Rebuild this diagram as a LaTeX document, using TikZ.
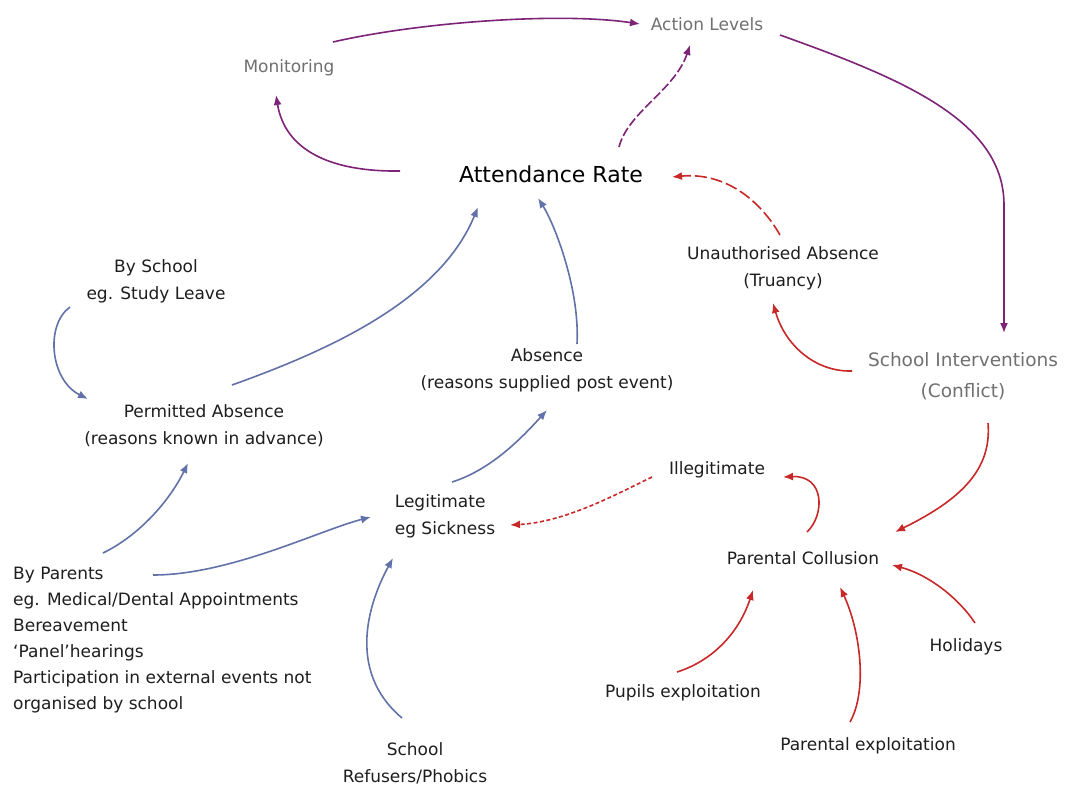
\documentclass[tikz,border=0pt]{standalone}
\usepackage{fontspec}
\setmainfont{DejaVu Sans}
\usetikzlibrary{arrows.meta,calc}
\definecolor{pur}{RGB}{125,35,120}
\definecolor{blu}{RGB}{98,114,168}
\definecolor{rd}{RGB}{200,40,40}
\definecolor{txt}{RGB}{30,30,30}
\definecolor{gtxt}{RGB}{112,112,112}
\begin{document}
\begin{tikzpicture}[x=1pt,y=-1pt,
  lbl/.style={font=\fontsize{17}{27}\selectfont, text=txt, align=center, inner sep=2pt},
  glbl/.style={lbl, text=gtxt},
  con/.style={line width=1.6pt, -{Latex[length=10pt,width=8pt]}},
  pcon/.style={con, color=pur},
  bcon/.style={con, color=blu},
  rcon/.style={con, color=rd}]
\fill[white] (0,0) rectangle (1071,785);
\useasboundingbox (0,0) rectangle (1071,785);

% nodes
\node[glbl] (al) at (707,24) {Action Levels};
\node[glbl] (mon) at (289,68) {Monitoring};
\node[lbl, font=\fontsize{22}{27}\selectfont, text=black] (att) at (551,174) {Attendance Rate};
\node[lbl] (bys) at (156,281) {By School\\eg. Study Leave};
\node[lbl] (perm) at (204,426) {Permitted Absence\\(reasons known in advance)};
\node[lbl] (abs) at (547,370) {Absence\\(reasons supplied post event)};
\node[lbl] (un) at (783,268) {Unauthorised Absence\\(Truancy)};
\node[glbl, font=\fontsize{18.5}{31}\selectfont] (si) at (963,376) {School Interventions\\(Conflict)};
\node[lbl] (illeg) at (717,470) {Illegitimate};
\node[lbl, align=left] (leg) at (445,516) {Legitimate\\eg Sickness};
\node[lbl] (pc) at (803,558) {Parental Collusion};
\node[lbl] (hol) at (966,647) {Holidays};
\node[lbl] (pup) at (683,693) {Pupils exploitation};
\node[lbl] (pex) at (868,746) {Parental exploitation};
\node[lbl, align=left, anchor=west, font=\fontsize{17}{26}\selectfont] (byp) at (11,640)
  {By Parents\\eg. Medical/Dental Appointments\\Bereavement\\‘Panel’hearings\\Participation in external events not\\organised by school};
\node[lbl] (ref) at (415,763) {School\\Refusers/Phobics};

% purple connectors
\draw[pcon] ($(mon)+(44,-26)$) .. controls (420,22) and (560,12) .. ($(al)+(-67,0)$);
\draw[pcon] ($(att)+(-151,-3)$) .. controls (330,172) and (285,150) .. ($(mon)+(-13,27)$);
\draw[pcon, dash pattern=on 9pt off 3pt] ($(att)+(68,-27)$) .. controls (628,112) and (675,90) .. ($(al)+(-17,21)$);
\draw[pcon] ($(al)+(73,11)$) .. controls (900,78) and (1004,120) .. (1004,205) -- ($(si)+(41,-43)$);

% red connectors
\draw[rcon, dash pattern=on 12pt off 4pt] ($(un)+(-3,-33)$) .. controls (760,200) and (725,172) .. ($(att)+(121,3)$);
\draw[rcon] ($(si)+(-111,-5)$) .. controls (815,372) and (785,345) .. ($(un)+(-10,35)$);
\draw[rcon] ($(si)+(25,47)$) .. controls (992,470) and (960,500) .. ($(pc)+(92,-26)$);
\draw[rcon] ($(pc)+(4,-26)$) .. controls (825,515) and (825,475) .. ($(illeg)+(66,7)$);
\draw[rcon, dash pattern=on 4pt off 2.5pt] ($(illeg)+(-65,7)$) .. controls (615,495) and (565,522) .. ($(leg)+(65,9)$);
\draw[rcon] ($(hol)+(9,-24)$) .. controls (960,600) and (930,575) .. ($(pc)+(89,7)$);
\draw[rcon] ($(pex)+(-18,-24)$) .. controls (868,690) and (860,630) .. ($(pc)+(37,29)$);
\draw[rcon] ($(pup)+(-6,-21)$) .. controls (715,660) and (740,630) .. ($(pc)+(-50,32)$);

% blue connectors
\draw[bcon] ($(bys)+(-86,26)$) .. controls (45,325) and (50,380) .. ($(perm)+(-116,-27)$);
\draw[bcon] ($(perm)+(28,-41)$) .. controls (330,350) and (440,300) .. ($(att)+(-73,33)$);
\draw[bcon] ($(abs)+(30,-26)$) .. controls (580,290) and (555,225) .. ($(att)+(-13,24)$);
\draw[bcon] ($(leg)+(7,-34)$) .. controls (490,470) and (520,440) .. ($(abs)+(0,40)$);
\draw[bcon] ($(byp.west)+(92,-87)$) .. controls (140,535) and (170,500) .. ($(perm)+(-16,37)$);
\draw[bcon] ($(byp.west)+(142,-65)$) .. controls (230,575) and (320,530) .. ($(leg)+(-74,1)$);
\draw[bcon] ($(ref)+(-13,-45)$) .. controls (345,670) and (370,600) .. ($(leg)+(-52,42)$);
\end{tikzpicture}
\end{document}
